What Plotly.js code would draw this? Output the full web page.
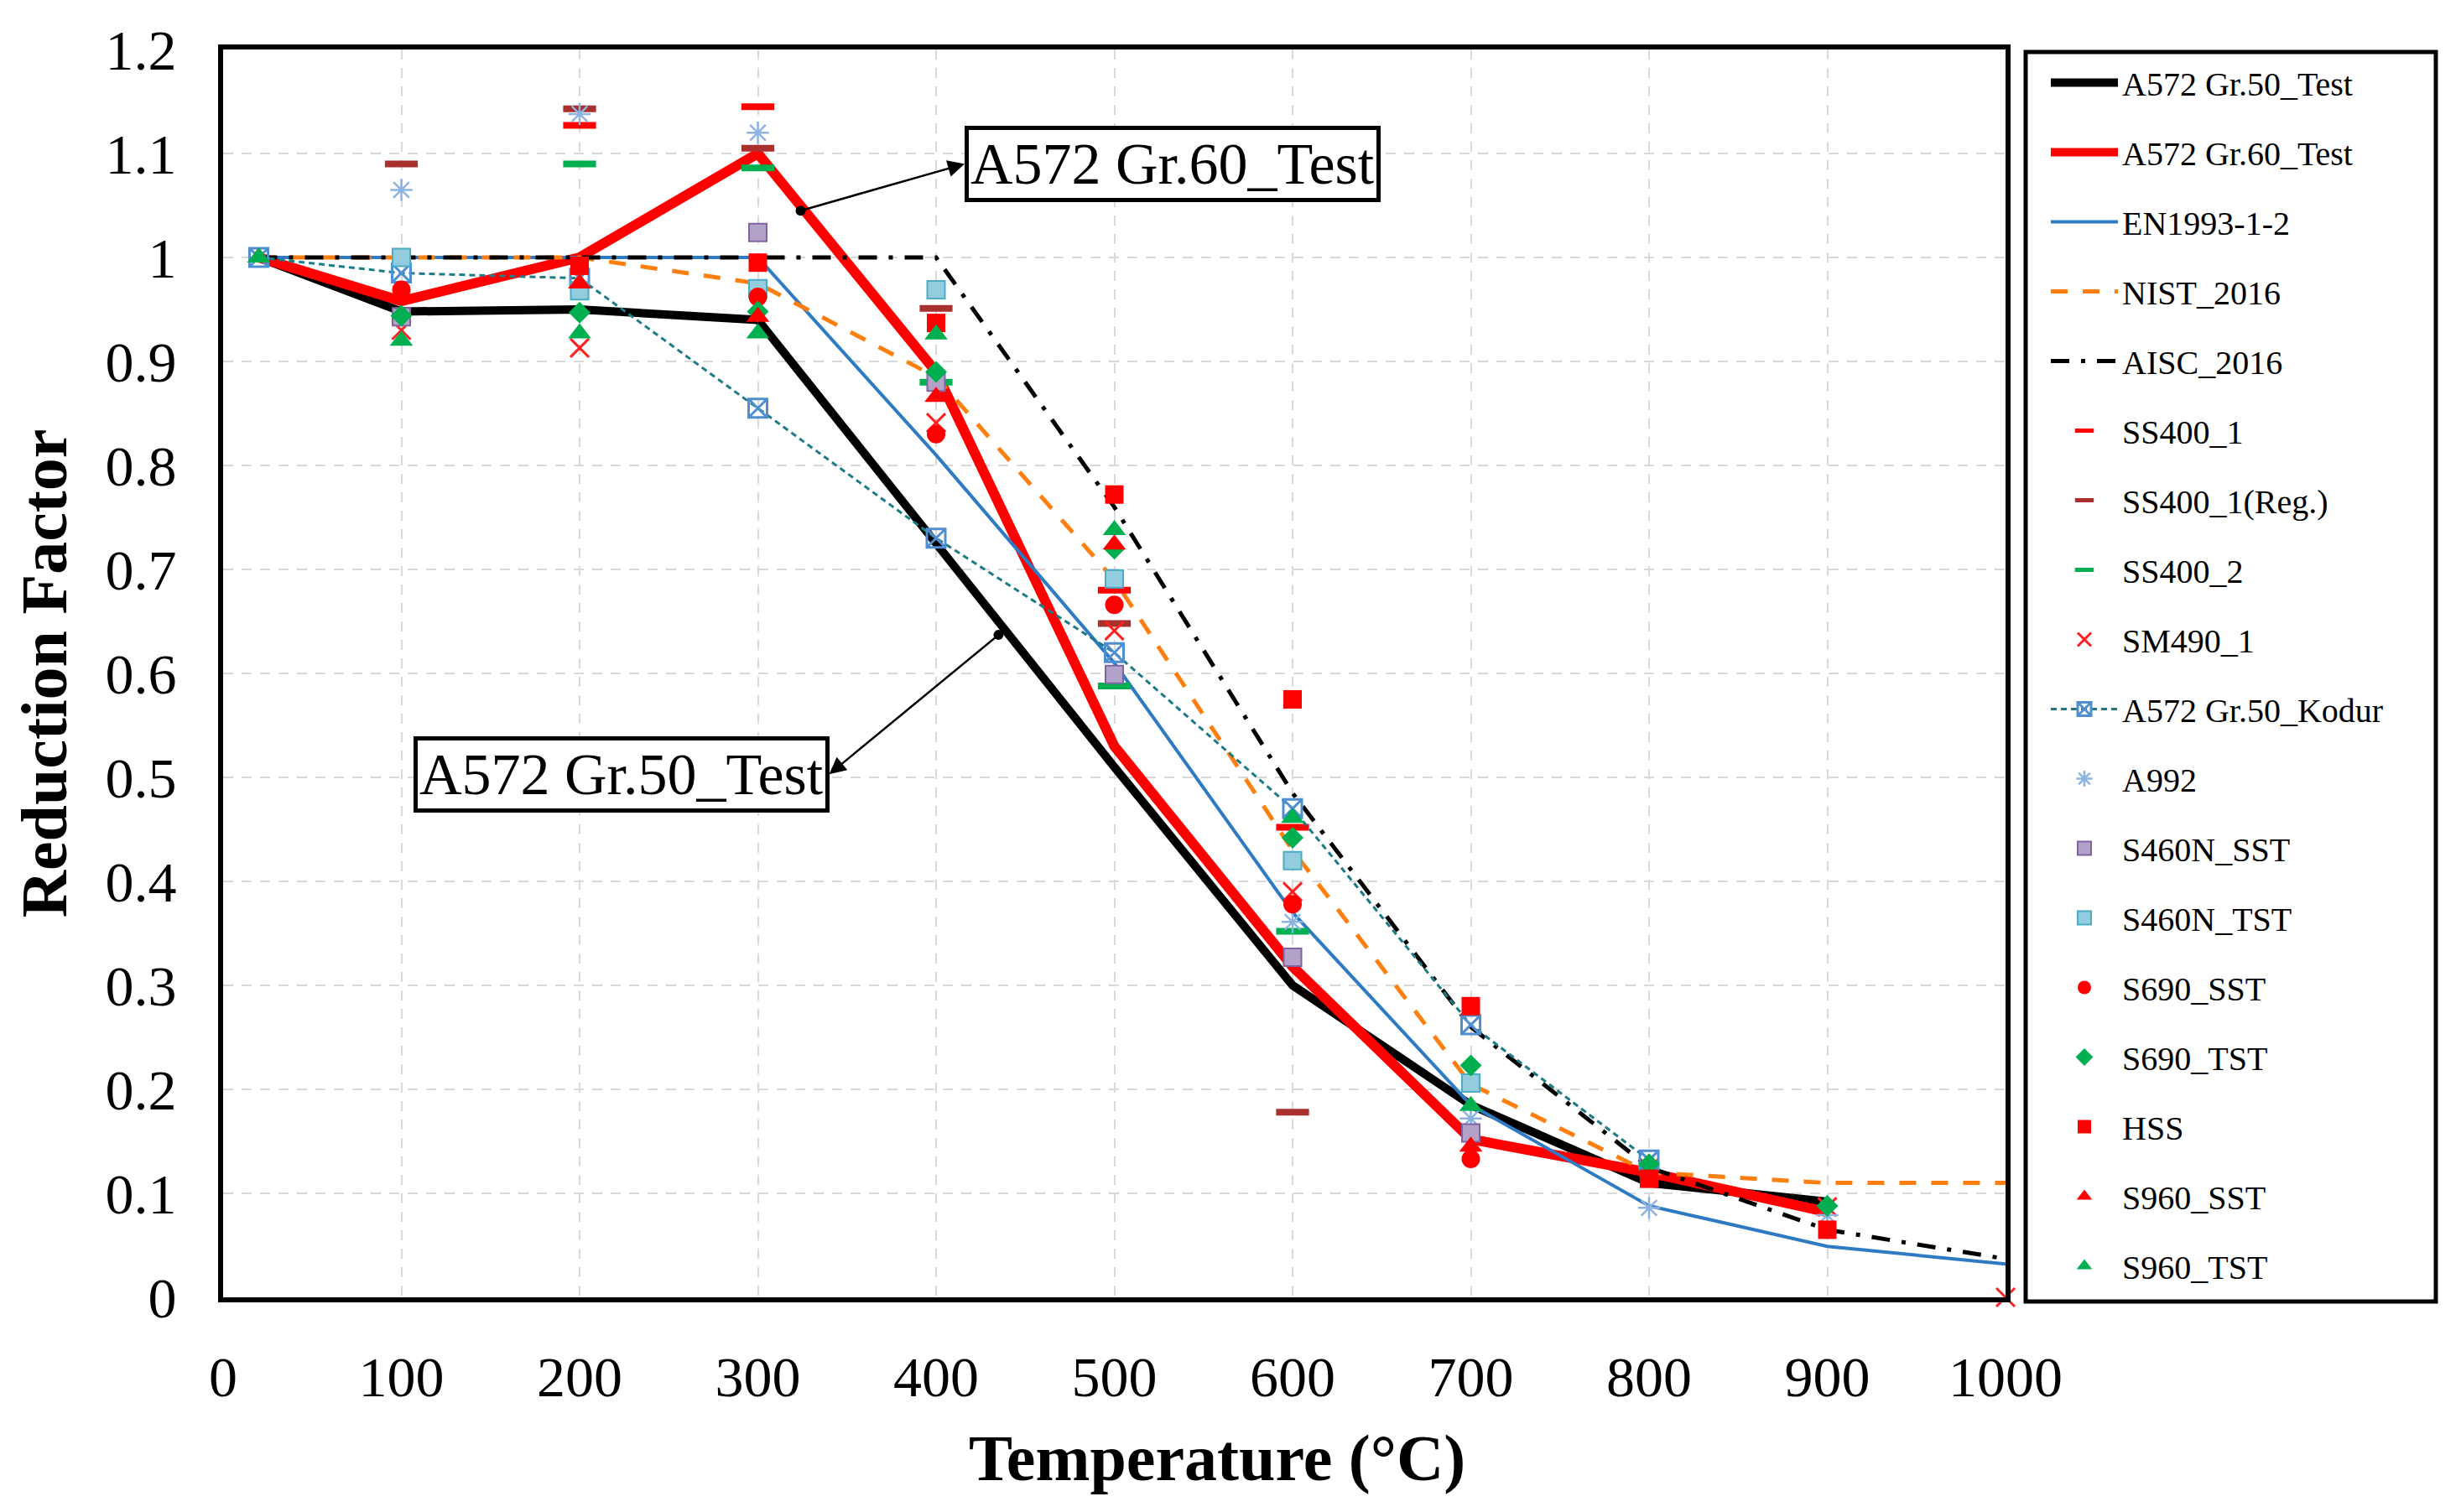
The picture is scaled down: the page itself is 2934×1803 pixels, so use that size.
<!DOCTYPE html>
<html>
<head>
<meta charset="utf-8">
<script src="https://cdn.plot.ly/plotly-3.0.1.min.js"></script>
<style>
  html, body { margin: 0; padding: 0; background: #fff; }
  #plot { width: 2934px; height: 1803px; }
</style>
</head>
<body>
<div id="plot"></div>
<script>
// temperatures (°C)
var tTest = [20, 100, 200, 300, 400, 500, 600, 700, 800, 900];
var tCode = [20, 100, 200, 300, 400, 500, 600, 700, 800, 900, 1000];
var tAisc = [20, 400, 500, 600, 700, 800, 900, 1000];
var tKodur = [20, 100, 200, 300, 400, 500, 600, 700, 800];

// line series
var gr50Test = [1.0, 0.948, 0.95, 0.94, 0.725, 0.51, 0.30, 0.185, 0.11, 0.092];
var gr60Test = [1.0, 0.958, 1.0, 1.10, 0.89, 0.53, 0.318, 0.152, 0.12, 0.082];
var en1993 = [1.0, 1.0, 1.0, 1.0, 0.81, 0.61, 0.37, 0.185, 0.088, 0.049, 0.032];
var nist2016 = [1.0, 1.0, 1.0, 0.975, 0.885, 0.69, 0.43, 0.205, 0.12, 0.11, 0.11];
var aisc2016 = [1.0, 1.0, 0.76, 0.485, 0.26, 0.125, 0.065, 0.037];
var kodur = [1.0, 0.985, 0.98, 0.855, 0.73, 0.62, 0.47, 0.262, 0.132];

// scatter series
var ss400_1T = [200, 300, 500, 600];
var ss400_1 = [1.127, 1.145, 0.68, 0.452];
var ss400RegT = [100, 200, 300, 400, 500, 600];
var ss400Reg = [1.09, 1.143, 1.105, 0.951, 0.648, 0.178];
var ss400_2T = [200, 300, 400, 500, 600];
var ss400_2 = [1.09, 1.086, 0.88, 0.588, 0.352];
var sm490T = [100, 200, 400, 500, 600, 800, 900, 1000];
var sm490 = [0.93, 0.913, 0.841, 0.641, 0.39, 0.124, 0.087, 0];
var a992T = [100, 200, 300, 600, 700, 800, 900];
var a992 = [1.065, 1.138, 1.12, 0.361, 0.172, 0.086, 0.079];
var s460sstT = [100, 300, 400, 500, 600, 700];
var s460sst = [0.943, 1.024, 0.88, 0.599, 0.327, 0.158];
var s460tstT = [100, 200, 300, 400, 500, 600, 700];
var s460tst = [1.0, 0.968, 0.97, 0.969, 0.691, 0.42, 0.206];
var s690sstT = [100, 300, 400, 500, 600, 700];
var s690sst = [0.969, 0.962, 0.83, 0.666, 0.378, 0.133];
var s690tstT = [100, 200, 300, 400, 500, 600, 700, 800, 900];
var s690tst = [0.944, 0.947, 0.948, 0.89, 0.72, 0.442, 0.223, 0.128, 0.088];
var hssT = [200, 300, 400, 500, 600, 700, 800, 900];
var hss = [0.992, 0.995, 0.937, 0.772, 0.575, 0.28, 0.114, 0.065];
var s960sstT = [20, 200, 300, 400, 500, 700];
var s960sst = [1.0, 0.975, 0.943, 0.866, 0.724, 0.145];
var s960tstT = [20, 100, 200, 300, 400, 500, 600, 700];
var s960tst = [1.0, 0.92, 0.927, 0.927, 0.926, 0.738, 0.461, 0.184];

var xTicks = [0, 100, 200, 300, 400, 500, 600, 700, 800, 900, 1000];
var yTicks = [0, 0.1, 0.2, 0.3, 0.4, 0.5, 0.6, 0.7, 0.8, 0.9, 1.0, 1.1, 1.2];
var yTickText = ["0", "0.1", "0.2", "0.3", "0.4", "0.5", "0.6", "0.7", "0.8", "0.9", "1", "1.1", "1.2"];

var serif = '"Liberation Serif", "Times New Roman", serif';
var g = 0;

function lineTrace(name, x, y, color, width, dash) {
    g++;
    return {
        x: x, y: y, name: name, type: 'scatter', mode: 'lines',
        line: { color: color, width: width, dash: dash },
        legendgroup: 'g' + g
    };
}

function markTrace(name, x, y, symbol, size, color, lineColor, lineWidth) {
    g++;
    return {
        x: x, y: y, name: name, type: 'scatter', mode: 'markers',
        marker: { symbol: symbol, size: size, color: color,
                  line: { color: lineColor, width: lineWidth } },
        legendgroup: 'g' + g
    };
}

var kodurTrace = {
    x: tKodur, y: kodur, name: 'A572 Gr.50_Kodur', type: 'scatter', mode: 'lines+markers',
    line: { color: '#1d7b86', width: 3, dash: '7px,5px' },
    marker: { symbol: 'square-x-open', size: 22, color: '#4f8fd1', line: { color: '#4f8fd1', width: 3 } },
    legendgroup: 'gk'
};

var sm490Trace = markTrace('SM490_1', sm490T, sm490, 'x-thin-open', 22, '#ff2020', '#ff2020', 3);
sm490Trace.cliponaxis = false;

var data = [
    lineTrace('A572 Gr.50_Test', tTest, gr50Test, '#000000', 10, 'solid'),
    lineTrace('A572 Gr.60_Test', tTest, gr60Test, '#ff0000', 12, 'solid'),
    lineTrace('EN1993-1-2', tCode, en1993, '#2e7bc4', 4, 'solid'),
    lineTrace('NIST_2016', tCode, nist2016, '#ff7f0e', 5, '20px,18px'),
    lineTrace('AISC_2016', tAisc, aisc2016, '#000000', 5, '22px,14px,5px,14px'),
    markTrace('SS400_1', ss400_1T, ss400_1, 'line-ew-open', 28, '#ff0000', '#ff0000', 8),
    markTrace('SS400_1(Reg.)', ss400RegT, ss400Reg, 'line-ew-open', 28, '#a8302e', '#a8302e', 8),
    markTrace('SS400_2', ss400_2T, ss400_2, 'line-ew-open', 28, '#00b050', '#00b050', 8),
    sm490Trace,
    kodurTrace,
    markTrace('A992', a992T, a992, 'asterisk-open', 22, '#8db3e2', '#8db3e2', 2.5),
    markTrace('S460N_SST', s460sstT, s460sst, 'square', 21, '#b3a2c7', '#8064a2', 2),
    markTrace('S460N_TST', s460tstT, s460tst, 'square', 21, '#93cddd', '#4bacc6', 2),
    markTrace('S690_SST', s690sstT, s690sst, 'circle', 22, '#ff0000', '#ff0000', 0),
    markTrace('S690_TST', s690tstT, s690tst, 'diamond', 20, '#00b050', '#00b050', 0),
    markTrace('HSS', hssT, hss, 'square', 22, '#ff0000', '#ff0000', 0),
    markTrace('S960_SST', s960sstT, s960sst, 'triangle-up', 24, '#ff0000', '#ff0000', 0),
    markTrace('S960_TST', s960tstT, s960tst, 'triangle-up', 24, '#00b050', '#00b050', 0)
];

var L = 266, R = 2391, T = 59, B = 1547;
var pw = R - L, ph = B - T;
function px(v) { return (v - L) / pw; }
function py(v) { return (B - v) / ph; }

var layout = {
    width: 2934,
    height: 1803,
    margin: { l: L, r: 2934 - R, t: T, b: 1803 - B },
    paper_bgcolor: '#ffffff',
    plot_bgcolor: '#ffffff',
    font: { family: serif, color: '#000000', size: 40 },
    showlegend: true,
    legend: {
        x: px(2440), y: py(66), xanchor: 'left', yanchor: 'top',
        bgcolor: 'rgba(0,0,0,0)', borderwidth: 0,
        font: { family: serif, size: 40, color: '#000' },
        itemwidth: 80, itemsizing: 'trace',
        traceorder: 'grouped', tracegroupgap: 28
    },
    xaxis: {
        range: [0, 1000],
        tickvals: xTicks,
        ticks: '',
        ticklabelstandoff: 30,
        tickfont: { family: serif, size: 68 },
        showgrid: true, gridcolor: '#d9d9d9', gridwidth: 2, griddash: '12px,10px',
        zeroline: false,
        showline: true, linecolor: '#000', linewidth: 6, mirror: true
    },
    yaxis: {
        range: [0, 1.2],
        tickvals: yTicks,
        ticktext: yTickText,
        ticks: '',
        ticklabelstandoff: 36,
        tickfont: { family: serif, size: 68 },
        showgrid: true, gridcolor: '#d9d9d9', gridwidth: 2, griddash: '12px,10px',
        zeroline: false,
        showline: true, linecolor: '#000', linewidth: 6, mirror: true,
        title: { text: 'Reduction Factor', standoff: 22,
                 font: { family: serif, size: 78, weight: 'bold' } }
    },
    shapes: [{
        type: 'rect', xref: 'paper', yref: 'paper',
        x0: px(2415), x1: px(2904), y0: py(1552), y1: py(62),
        line: { color: '#000', width: 5 }, fillcolor: 'rgba(0,0,0,0)'
    }],
    annotations: [{
        // x-axis title, centred on the whole figure as in the source
        xref: 'paper', yref: 'paper', x: px(1451), y: py(1739),
        xanchor: 'center', yanchor: 'middle', showarrow: false,
        text: 'Temperature (°C)',
        font: { family: serif, size: 78, weight: 'bold', color: '#000' }
    }, {
        x: 324, y: 1.045, xref: 'x', yref: 'y',
        ax: 416, ay: 1.09, axref: 'x', ayref: 'y',
        text: 'A572 Gr.60_Test',
        showarrow: true, arrowside: 'end+start',
        arrowhead: 6, arrowsize: 1.2, startarrowhead: 2, startarrowsize: 1.6,
        arrowwidth: 2.5, arrowcolor: '#000',
        xanchor: 'left', yanchor: 'middle',
        bordercolor: '#000', borderwidth: 5, borderpad: 2, bgcolor: '#fff',
        font: { family: serif, size: 70, color: '#000' }
    }, {
        x: 435, y: 0.637, xref: 'x', yref: 'y',
        ax: 340, ay: 0.503, axref: 'x', ayref: 'y',
        text: 'A572 Gr.50_Test',
        showarrow: true, arrowside: 'end+start',
        arrowhead: 6, arrowsize: 1.2, startarrowhead: 2, startarrowsize: 1.6,
        arrowwidth: 2.5, arrowcolor: '#000',
        xanchor: 'right', yanchor: 'middle',
        bordercolor: '#000', borderwidth: 5, borderpad: 2, bgcolor: '#fff',
        font: { family: serif, size: 70, color: '#000' }
    }]
};

Plotly.newPlot('plot', data, layout, { displayModeBar: false, staticPlot: true });
</script>
</body>
</html>
